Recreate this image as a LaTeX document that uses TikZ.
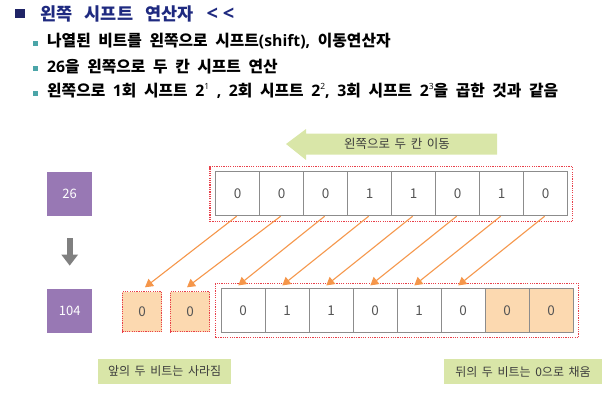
\documentclass[tikz,border=0pt]{standalone}
\usepackage{fontspec}
\setmainfont{Noto Sans CJK KR}
\newfontfamily\latinfont{Open Sans}
\usetikzlibrary{arrows.meta}
\definecolor{titleblue}{HTML}{1F2A80}
\definecolor{sqnavy}{HTML}{1F2466}
\definecolor{bullteal}{HTML}{4BA5A8}
\definecolor{cellgray}{HTML}{8C8C8C}
\definecolor{digitgray}{HTML}{555555}
\definecolor{dotred}{HTML}{E8404A}
\definecolor{peach}{HTML}{FCD9B0}
\definecolor{arroworange}{HTML}{F5964A}
\definecolor{purplebox}{HTML}{9878B4}
\definecolor{labelgreen}{HTML}{D9E6A8}
\definecolor{labeltext}{HTML}{3C3C3C}
\definecolor{downgray}{HTML}{808080}
\newcommand{\lat}[1]{{\latinfont #1}}
\newcommand{\supdigit}[1]{\raisebox{0.8ex}{\latinfont\fontsize{8.5}{8.5}\selectfont\mdseries #1}}
\newcommand{\titlespacing}{\spaceskip 12.5pt\relax}
\newcommand{\bodyspacing}{\spaceskip 7.6pt\relax}
\newcommand{\labelspacing}{\spaceskip 4.6pt\relax}
\tikzset{
  cellbox/.style={draw=cellgray, line width=1pt, minimum width=44pt, minimum height=44pt, inner sep=0pt, text=digitgray, font=\fontsize{13.5}{13.5}\selectfont},
  redframe/.style={draw=dotred, line width=1.4pt, dash pattern=on 1.2pt off 1.1pt, inner sep=0pt},
  purplesq/.style={fill=purplebox, minimum width=44.7pt, minimum height=44.3pt, inner sep=0pt, text=white, font=\fontsize{13}{13}\selectfont},
  orangecell/.style={redframe, fill=peach, minimum width=39.4pt, minimum height=40pt, text=digitgray, font=\fontsize{13.5}{13.5}\selectfont},
  orangearrow/.style={draw=arroworange, line width=1.1pt, -{Triangle[length=8pt,width=9pt]}},
  greenlabel/.style={fill=labelgreen, inner sep=0pt, text=labeltext, font={\fontsize{12}{12}\selectfont\labelspacing}},
  bodytext/.style={anchor=west, inner sep=0pt, font={\fontsize{15.8}{15.8}\selectfont\bfseries\bodyspacing}},
  bullet/.style={fill=bullteal, minimum size=5pt, inner sep=0pt}
}
\begin{document}
\begin{tikzpicture}[x=1pt,y=-1pt]
\useasboundingbox (0,0) rectangle (612,407);
% title
\node[fill=sqnavy, minimum width=10pt, minimum height=9pt, inner sep=0pt] (tsq) at (20,13.8) {};
\node[anchor=west, inner sep=0pt, text=titleblue, font={\fontsize{17.5}{17.5}\selectfont\bfseries\titlespacing}] (title) at (40,14) {왼쪽 시프트 연산자 {\latinfont\bfseries\fontsize{20}{20}\selectfont <\kern5pt<}};
% bullets
\node[bullet] (b1dot) at (35.5,43) {};
\node[bodytext] (l1) at (47,41) {나열된 비트를 왼쪽으로 시프트\lat{(shift),} 이동연산자};
\node[bullet] (b2dot) at (35.5,68.5) {};
\node[bodytext] (l2) at (47,66.5) {\lat{26}을 왼쪽으로 두 칸 시프트 연산};
\node[bullet] (b3dot) at (35.5,93) {};
\node[bodytext] (l3) at (47,91) {왼쪽으로 \lat{1}회 시프트 \lat{2}\supdigit{1} \lat{,} \lat{2}회 시프트 \lat{2}\supdigit{2}\lat{,} \lat{3}회 시프트 \lat{2}\supdigit{3}을 곱한 것과 같음};
% green shift arrow
\fill[labelgreen] (286,144) -- (306,129) -- (306,133.5) -- (497,133.5) -- (497,154.5) -- (306,154.5) -- (306,160) -- cycle;
\node[inner sep=0pt, text=labeltext, font={\fontsize{12.5}{12.5}\selectfont\labelspacing}] (shiftlbl) at (397,144) {왼쪽으로 두 칸 이동};
% purple boxes
\node[purplesq] (p1) at (69.7,193.8) {26};
\node[purplesq] (p2) at (69.7,311.3) {104};
\draw[downgray, line width=6pt, -{Triangle[length=11pt,width=16pt]}, shorten <=22pt, shorten >=23.3pt] (p1.south) -- (p2.north);
% top row
\node[redframe, minimum width=362.7pt, minimum height=55pt] (topframe) at (391.35,194.2) {};
\foreach \v [count=\i] in {0,0,0,1,1,0,1,0} {
  \node[cellbox] (t\i) at ({215.7+44*(\i-0.5)},193.7) {\v};
}
% bottom row
\node[redframe, minimum width=362.6pt, minimum height=54.4pt] (botframe) at (397,310.5) {};
\foreach \v [count=\i] in {0,1,1,0,1,0} {
  \node[cellbox] (b\i) at ({221+44*(\i-0.5)},310.5) {\v};
}
\node[cellbox, fill=peach] (b7) at ({221+44*6.5},310.5) {0};
\node[cellbox, fill=peach] (b8) at ({221+44*7.5},310.5) {0};
\node[orangecell] (o1) at (142,311.7) {0};
\node[orangecell] (o2) at (190,311.7) {0};
% orange arrows
\draw[orangearrow] ([xshift=-1pt]t1.south) -- ([xshift=3pt,yshift=3.7pt]o1.north);
\draw[orangearrow] ([xshift=-1pt]t2.south) -- ([xshift=-3pt,yshift=3.7pt]o2.north);
\foreach \s/\e in {3/1,4/2,5/3,6/4,7/5,8/6} {
  \draw[orangearrow] ([xshift=-1pt]t\s.south) -- ([xshift=-4.7pt,yshift=2.6pt]b\e.north);
}
% bottom labels
\node[greenlabel, minimum width=132.7pt, minimum height=25pt] (lostlbl) at (164.65,371.5) {앞의 두 비트는 사라짐};
\node[greenlabel, minimum width=157.4pt, minimum height=24.7pt] (filllbl) at (523,371.7) {뒤의 두 비트는 0으로 채움};
\end{tikzpicture}
\end{document}
